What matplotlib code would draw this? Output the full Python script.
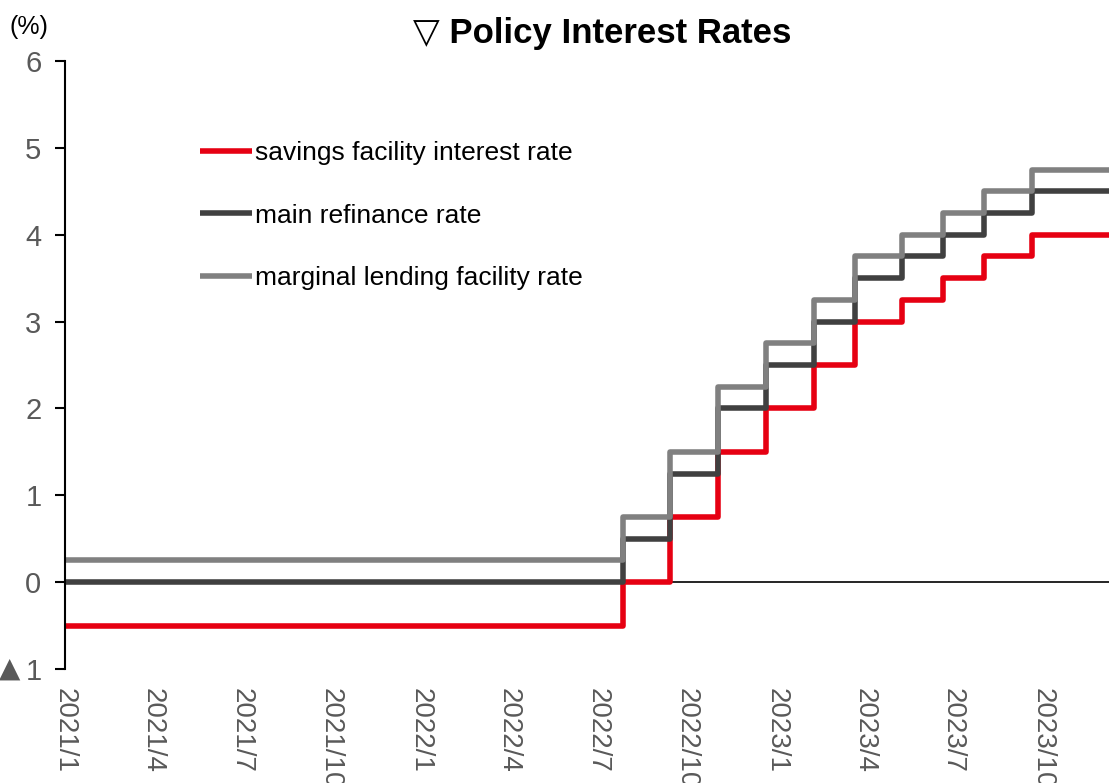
import numpy as np
import pandas as pd
import matplotlib
matplotlib.use('Agg')
import matplotlib.pyplot as plt

fam = ['Liberation Sans', 'DejaVu Sans']
plt.rcParams['font.family'] = fam

# ECB policy rates (change dates, last entry = end of data)
dates = ['2021-01-01', '2022-07-27', '2022-09-14', '2022-11-02', '2022-12-21',
         '2023-02-08', '2023-03-22', '2023-05-10', '2023-06-21', '2023-08-02',
         '2023-09-20', '2023-12-08']
savings = [-0.5, 0.0, 0.75, 1.5, 2.0, 2.5, 3.0, 3.25, 3.5, 3.75, 4.0, 4.0]
main_refi = [0.0, 0.5, 1.25, 2.0, 2.5, 3.0, 3.5, 3.75, 4.0, 4.25, 4.5, 4.5]
marginal = [0.25, 0.75, 1.5, 2.25, 2.75, 3.25, 3.75, 4.0, 4.25, 4.5, 4.75, 4.75]
labels = ['savings facility interest rate', 'main refinance rate',
          'marginal lending facility rate']
colors = ['#E60012', '#404040', '#808080']

yticks = [-1, 0, 1, 2, 3, 4, 5, 6]
ytick_labels = ['1', '0', '1', '2', '3', '4', '5', '6']  # -1 shown as "▲1"
xtick_dates = pd.date_range('2021-01-01', '2023-10-01', freq='QS')

x = pd.to_datetime(dates)

fig = plt.figure(figsize=(11.09, 7.83), dpi=100)
ax = fig.add_axes([0.0586, 0.1456, 0.9414, 0.7765])

for vals, lab, c in zip([savings, main_refi, marginal], labels, colors):
    ax.plot(x, vals, drawstyle='steps-post', color=c, lw=4, label=lab,
            solid_joinstyle='round', solid_capstyle='butt')

ax.axhline(0, color='black', lw=1.2, zorder=1)

ax.set_xlim(x[0], x[-1])
ax.set_ylim(-1, 6)
ax.set_yticks(yticks)
ax.set_yticklabels(ytick_labels)
ax.set_xticks(xtick_dates)
ax.set_xticklabels([f'{d.year}/{d.month}' for d in xtick_dates], rotation=270,
                   va='top', ha='center')

for s in ['top', 'right', 'bottom']:
    ax.spines[s].set_visible(False)
ax.spines['left'].set_color('black')
ax.spines['left'].set_linewidth(1.5)
ax.tick_params(axis='y', direction='out', length=7, width=1.5, color='black',
               labelsize=21, labelcolor='#595959', pad=10)
ax.tick_params(axis='x', length=0, labelsize=20, labelcolor='#595959', pad=14)

# minus marker in front of the bottom tick label
ax.annotate('▲', xy=(0, -1), xycoords=('axes fraction', 'data'),
            xytext=(-47.5, 0), textcoords='offset points', fontsize=20,
            color='#595959', ha='left', va='center',
            family='DejaVu Sans', annotation_clip=False)

leg = ax.legend(loc='upper left', bbox_to_anchor=(0.129, 0.868), frameon=False,
                fontsize=19, handlelength=2.0, handletextpad=0.1,
                labelspacing=1.45, borderpad=0, borderaxespad=0)

fig.text(0.009, 0.965, '(%)', fontsize=18, color='black', ha='left', va='center')
fig.text(0.543, 0.957, '▽ Policy Interest Rates', fontsize=25, fontweight='bold',
         ha='center', va='center')

fig.savefig('out.png', dpi=100)
